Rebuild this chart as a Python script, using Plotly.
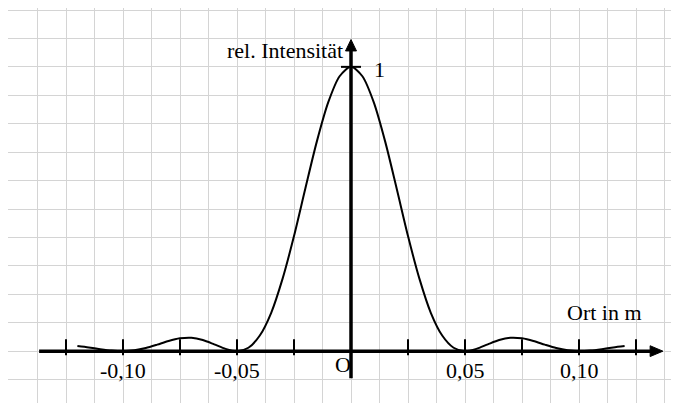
import plotly.graph_objects as go

# Data
x_pos = [-0.12, -0.115, -0.11, -0.105, -0.10, -0.095, -0.09, -0.085, -0.08, -0.075,
         -0.07, -0.065, -0.06, -0.055, -0.05, -0.045, -0.04, -0.035, -0.03, -0.025,
         -0.02, -0.015, -0.01, -0.005, 0.0, 0.005, 0.01, 0.015, 0.02, 0.025,
         0.03, 0.035, 0.04, 0.045, 0.05, 0.055, 0.06, 0.065, 0.07, 0.075,
         0.08, 0.085, 0.09, 0.095, 0.10, 0.105, 0.11, 0.115, 0.12]
intensity = [0.018, 0.013, 0.007, 0.002, 0.0, 0.003, 0.011, 0.023, 0.036, 0.045,
             0.047, 0.039, 0.024, 0.008, 0.0, 0.012, 0.055, 0.135, 0.255, 0.405,
             0.573, 0.737, 0.875, 0.967, 1.0, 0.967, 0.875, 0.737, 0.573, 0.405,
             0.255, 0.135, 0.055, 0.012, 0.0, 0.008, 0.024, 0.039, 0.047, 0.045,
             0.036, 0.023, 0.011, 0.003, 0.0, 0.002, 0.007, 0.013, 0.018]
tick_x = [-0.125, -0.10, -0.075, -0.05, -0.025, 0.025, 0.05, 0.075, 0.10, 0.125]
label_x = [-0.10, -0.05, 0.05, 0.10]
label_text = ["-0,10", "-0,05", "0,05", "0,10"]

FONT = "Liberation Serif, Times New Roman, serif"
FS = 22

fig = go.Figure()
fig.add_trace(go.Scatter(x=x_pos, y=intensity, mode="lines",
                         line=dict(color="black", width=2, shape="spline", smoothing=0.8),
                         hoverinfo="skip", showlegend=False))

shapes = []
# x axis with arrow
shapes.append(dict(type="line", xref="x", yref="y", x0=-0.1368, x1=0.1318, y0=0, y1=0,
                   line=dict(color="black", width=3.5)))
shapes.append(dict(type="path", xref="x", yref="y",
                   path="M 0.1312,0.0190 L 0.1368,0 L 0.1312,-0.0190 Z",
                   fillcolor="black", line=dict(color="black", width=1)))
# y axis with arrow
shapes.append(dict(type="line", xref="x", yref="y", x0=0, x1=0, y0=-0.095, y1=1.058,
                   line=dict(color="black", width=3.5)))
shapes.append(dict(type="path", xref="x", yref="y",
                   path="M -0.0024,1.056 L 0,1.096 L 0.0024,1.056 Z",
                   fillcolor="black", line=dict(color="black", width=1)))
# ticks
for tx in tick_x:
    shapes.append(dict(type="line", xref="x", yref="y", x0=tx, x1=tx, y0=-0.014, y1=0.042,
                       line=dict(color="black", width=2)))
shapes.append(dict(type="line", xref="x", yref="y", x0=-0.0044, x1=0.0044, y0=1, y1=1,
                   line=dict(color="black", width=2)))

annotations = []
for lx, lt in zip(label_x, label_text):
    annotations.append(dict(x=lx, y=0, xref="x", yref="y", text=lt, showarrow=False,
                            xanchor="center", yanchor="middle", yshift=-19,
                            font=dict(family=FONT, size=FS, color="black")))
annotations.append(dict(x=0, y=0, xref="x", yref="y", text="O", showarrow=False,
                        xanchor="center", yanchor="middle", xshift=-8, yshift=-13,
                        font=dict(family=FONT, size=FS, color="black")))
annotations.append(dict(x=0, y=1, xref="x", yref="y", text="1", showarrow=False,
                        xanchor="center", yanchor="middle", xshift=28, yshift=-3,
                        font=dict(family=FONT, size=FS, color="black")))
annotations.append(dict(x=0, y=1, xref="x", yref="y", text="rel. Intensität", showarrow=False,
                        xanchor="right", yanchor="middle", xshift=-6, yshift=16,
                        font=dict(family=FONT, size=FS, color="black")))
annotations.append(dict(x=0.1284, y=0, xref="x", yref="y", text="Ort in m", showarrow=False,
                        xanchor="right", yanchor="middle", yshift=39,
                        font=dict(family=FONT, size=FS, color="black")))

# page has an 8px body margin: figure is 671x395 so it ends at the window edge
fig.update_layout(
    width=671, height=395,
    margin=dict(l=0, r=0, t=0, b=0, autoexpand=False),
    paper_bgcolor="white", plot_bgcolor="white",
    shapes=shapes, annotations=annotations,
    xaxis=dict(range=[-0.15044, 0.14386], showgrid=True, gridcolor="#d4d4d4", gridwidth=1.3,
               tick0=0, dtick=0.0125, showticklabels=False, zeroline=False, ticks="",
               fixedrange=True),
    yaxis=dict(range=[-0.18235, 1.20703], showgrid=True, gridcolor="#d4d4d4", gridwidth=1.3,
               tick0=0, dtick=0.1, showticklabels=False, zeroline=False, ticks="",
               fixedrange=True),
)

fig.write_html("out.html")
